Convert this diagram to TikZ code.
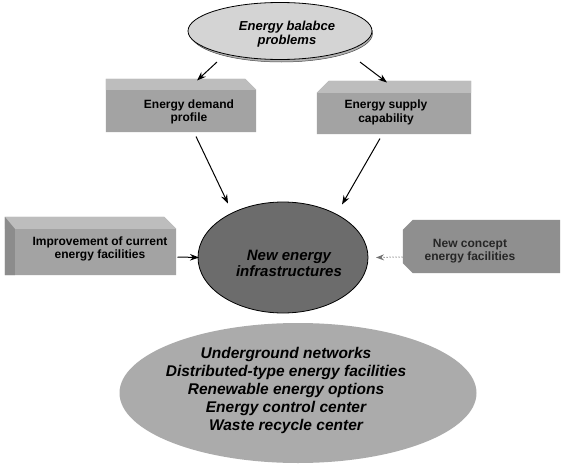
\documentclass[tikz,border=0pt]{standalone}
\usepackage{fontspec}
\setmainfont{Liberation Sans}
\usetikzlibrary{shapes.geometric,arrows.meta,calc}
\definecolor{boxgray}{HTML}{A3A3A3}
\definecolor{facegray}{HTML}{BDBDBD}
\definecolor{topgray}{HTML}{D4D4D4}
\definecolor{infragray}{HTML}{6C6C6C}
\definecolor{bottomgray}{HTML}{ABABAB}
\definecolor{newgray}{HTML}{8F8F8F}
\tikzset{
  ellbox/.style={ellipse, inner sep=0pt, align=center, draw=black, line width=0.8pt},
  boxfont/.style={font=\bfseries\fontsize{12}{13.5}\selectfont, align=center},
  slot/.style={rectangle, inner sep=0pt, draw=none},
  arr/.style={-{Stealth[length=9pt,width=6.5pt]}, line width=1pt, black},
  dotarr/.style={-{Stealth[length=8pt,width=6pt]}, line width=1pt, black!55, dotted}
}
\begin{document}
\begin{tikzpicture}[x=1pt,y=-1pt]
\useasboundingbox[fill=white] (0,0) rectangle (563,466);

% top ellipse with shadow
\node[ellipse, minimum width=182pt, minimum height=57pt, fill=black!30, draw=black!70, line width=0.5pt]
  (topshadow) at (281.5,33.5) {};
\node[ellbox, fill=topgray, minimum width=184pt, minimum height=57pt]
  (top) at (280,31) {};
\node[font=\bfseries\itshape\fontsize{13}{14}\selectfont, align=center] (toptext) at (287,34) {Energy balabce\\problems};

% upper boxes
\node[slot, minimum width=150pt, minimum height=53pt] (demand) at (181,105.5) {};
\fill[boxgray] (demand.south west) -- (demand.north west) -- ($(demand.north east)+(-11,0)$)
   -- ($(demand.north east)+(0,11)$) -- (demand.south east) -- cycle;
\fill[facegray] (demand.north west) -- ($(demand.north east)+(-11,0)$) -- ($(demand.north east)+(0,11)$)
   -- ($(demand.north west)+(0,11)$) -- cycle;
\node[boxfont] (demandtext) at (189,112) {Energy demand\\profile};

\node[slot, minimum width=154pt, minimum height=53pt] (supply) at (394,107.5) {};
\fill[boxgray] (supply.south west) -- ($(supply.north west)+(0,12)$) -- ($(supply.north west)+(12,0)$)
   -- (supply.north east) -- (supply.south east) -- cycle;
\fill[facegray] ($(supply.north west)+(0,12)$) -- ($(supply.north west)+(12,0)$)
   -- (supply.north east) -- ($(supply.north east)+(0,12)$) -- cycle;
\node[boxfont] (supplytext) at (386,112.5) {Energy supply\\capability};

% side boxes
\node[slot, minimum width=171pt, minimum height=58pt] (improve) at (90.5,246) {};
\fill[boxgray] (improve.south west) -- (improve.north west) -- ($(improve.north east)+(-12,0)$)
   -- ($(improve.north east)+(0,12)$) -- (improve.south east) -- cycle;
\fill[facegray] (improve.north west) -- ($(improve.north east)+(-12,0)$) -- ($(improve.north east)+(0,12)$)
   -- ($(improve.north west)+(0,12)$) -- cycle;
\fill[black!45] (improve.south west) -- (improve.north west) -- ($(improve.north west)+(10,12)$)
   -- ($(improve.south west)+(10,0)$) -- cycle;
\node[boxfont] (improvetext) at (100,249) {Improvement of current\\energy facilities};

\node[slot, minimum width=157pt, minimum height=53pt] (newc) at (481.5,246.5) {};
\fill[newgray] ($(newc.south west)+(10,0)$) -- ($(newc.south west)+(0,-10)$) -- ($(newc.north west)+(0,10)$)
   -- ($(newc.north west)+(10,0)$) -- (newc.north east) -- (newc.south east) -- cycle;
\node[boxfont, text=black!85] (newctext) at (470,251) {New concept\\energy facilities};

% center ellipse
\node[ellbox, fill=infragray, minimum width=170pt, minimum height=111pt] (infra) at (283,257.5) {};
\node[font=\bfseries\itshape\fontsize{15}{16}\selectfont, align=center] (infratext) at (289,263)
  {New energy\\infrastructures};

% bottom ellipse
\node[ellipse, inner sep=0pt, fill=bottomgray, draw=none, minimum width=357pt, minimum height=140pt]
  (under) at (298,393) {};
\node[font=\bfseries\itshape\fontsize{15.5}{18}\selectfont, align=center] (undertext) at (286,390)
  {Underground networks\\Distributed-type energy facilities\\Renewable energy options\\Energy control center\\Waste recycle center};

% connectors
\draw[arr] ($(top.center)+(-63,31)$) -- ($(demand.center)+(16,-25)$);
\draw[arr] ($(top.center)+(80,31)$) -- ($(supply.center)+(-7,-25)$);
\draw[arr] ($(demand.center)+(15,31)$) -- ($(infra.center)+(-55,-54)$);
\draw[arr] ($(supply.center)+(-14,31)$) -- ($(infra.center)+(59,-53)$);
\draw[arr] ($(improve.center)+(87,11)$) -- ($(infra.center)+(-84,0)$);
\draw[dotarr] ($(newc.center)+(-79,10.5)$) -- ($(infra.center)+(93,0)$);
\end{tikzpicture}
\end{document}
